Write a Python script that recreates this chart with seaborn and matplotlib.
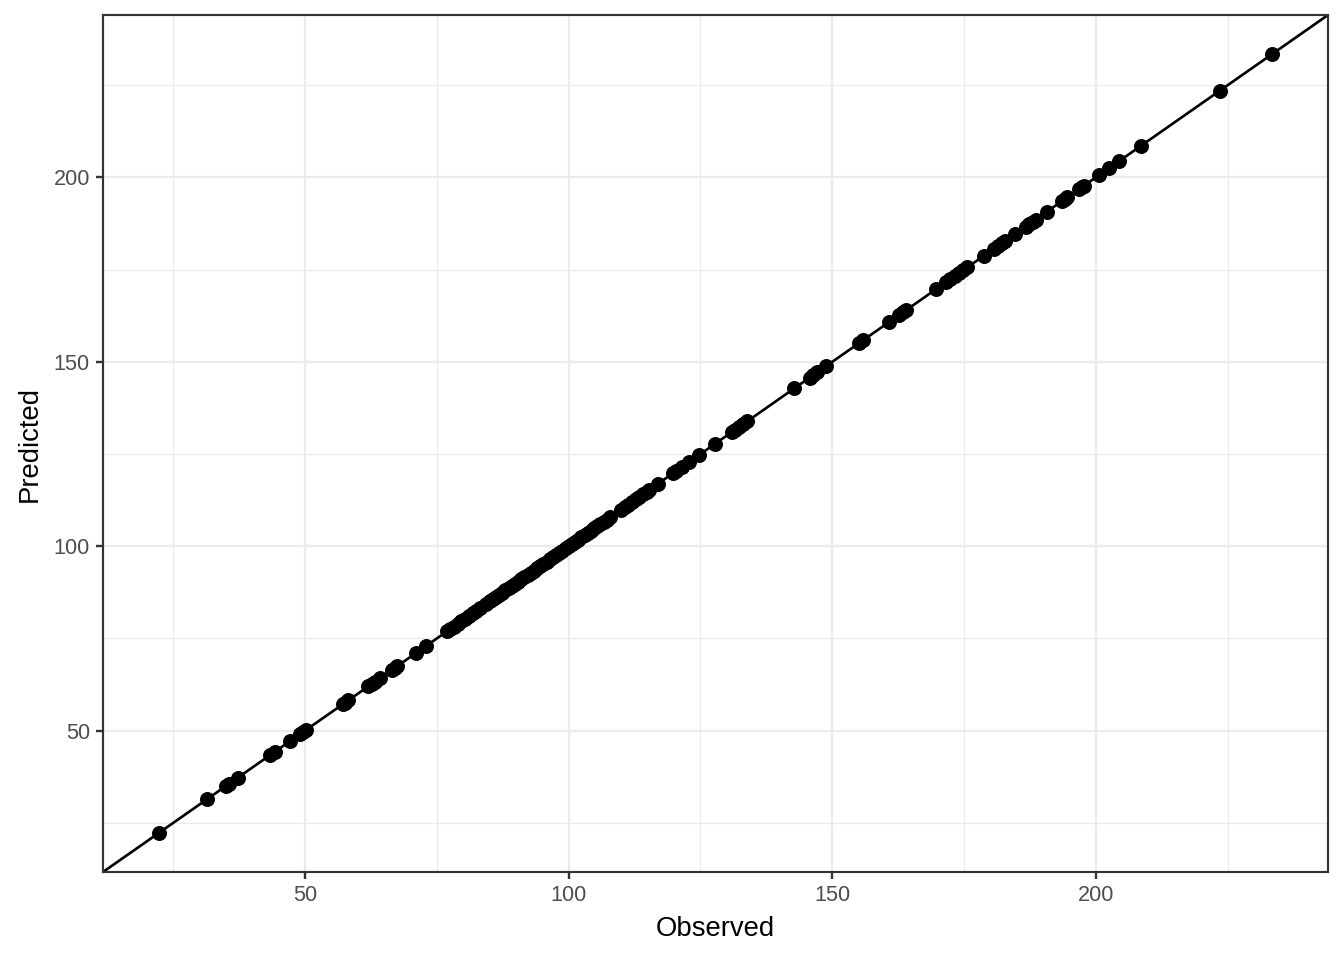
import matplotlib
matplotlib.use("Agg")
import matplotlib.pyplot as plt
import seaborn as sns
import pandas as pd
from matplotlib.ticker import MultipleLocator

observed = [22.2, 31.3, 35.0, 35.5, 37.2, 43.3, 44.2, 47.2, 49.0, 49.6, 50.2,
            57.2, 57.6, 58.2, 62.0, 62.6, 63.2, 64.2, 66.4, 67.0, 67.4, 71.0, 73.0,
            76.9, 77.5, 78.2, 78.9, 79.6, 80.3, 81.0, 81.8, 82.5, 83.1, 84.3, 85.0,
            85.6, 86.2, 86.8, 87.4, 88.0, 88.6, 89.2, 89.8, 90.4, 91.0, 91.6, 92.2,
            92.8, 93.4, 94.0, 94.6, 95.2, 95.8, 96.4, 97.0, 97.6, 98.2, 98.8, 99.4,
            100.0, 100.6, 101.2, 101.8, 102.4, 103.0, 103.6, 104.2, 104.8, 105.4,
            106.0, 106.6, 107.2, 107.8, 109.9, 110.6, 111.3, 112.0, 112.7, 113.4,
            114.1, 114.8, 115.3, 116.9, 119.8, 120.4, 121.4, 122.9, 124.8, 127.8,
            130.9, 131.6, 132.3, 133.1, 133.9, 142.8, 145.7, 146.3, 147.2, 148.8,
            155.1, 155.8, 160.7, 162.7, 163.4, 164.0, 169.7, 171.6, 172.4, 173.2,
            174.0, 174.8, 175.6, 178.7, 180.7, 181.5, 182.3, 182.7, 184.6, 186.7,
            187.4, 188.0, 188.6, 190.7, 193.6, 194.1, 194.6, 196.8, 197.3, 197.8,
            200.6, 202.6, 204.5, 208.5, 223.5, 233.5]
predicted = [22.2, 31.3, 35.0, 35.5, 37.2, 43.3, 44.2, 47.2, 49.0, 49.6, 50.2,
             57.2, 57.6, 58.2, 62.0, 62.6, 63.2, 64.2, 66.4, 67.0, 67.4, 71.0, 73.0,
             76.9, 77.5, 78.2, 78.9, 79.6, 80.3, 81.0, 81.8, 82.5, 83.1, 84.3, 85.0,
             85.6, 86.2, 86.8, 87.4, 88.0, 88.6, 89.2, 89.8, 90.4, 91.0, 91.6, 92.2,
             92.8, 93.4, 94.0, 94.6, 95.2, 95.8, 96.4, 97.0, 97.6, 98.2, 98.8, 99.4,
             100.0, 100.6, 101.2, 101.8, 102.4, 103.0, 103.6, 104.2, 104.8, 105.4,
             106.0, 106.6, 107.2, 107.8, 109.9, 110.6, 111.3, 112.0, 112.7, 113.4,
             114.1, 114.8, 115.3, 116.9, 119.8, 120.4, 121.4, 122.9, 124.8, 127.8,
             130.9, 131.6, 132.3, 133.1, 133.9, 142.8, 145.7, 146.3, 147.2, 148.8,
             155.1, 155.8, 160.7, 162.7, 163.4, 164.0, 169.7, 171.6, 172.4, 173.2,
             174.0, 174.8, 175.6, 178.7, 180.7, 181.5, 182.3, 182.7, 184.6, 186.7,
             187.4, 188.0, 188.6, 190.7, 193.6, 194.1, 194.6, 196.8, 197.3, 197.8,
             200.6, 202.6, 204.5, 208.5, 223.5, 233.5]

df = pd.DataFrame({"Observed": observed, "Predicted": predicted})

sns.set_theme(style="white")
plt.rcParams["font.family"] = ["Liberation Sans", "DejaVu Sans"]

DPI = 192
fig = plt.figure(figsize=(1344 / DPI, 960 / DPI), dpi=DPI)
ax = fig.add_axes([103 / 1344, 1 - 872 / 960, (1328 - 103) / 1344, (872 - 15) / 960])

xr = max(observed) - min(observed)
yr = max(predicted) - min(predicted)
ax.set_xlim(min(observed) - xr * 0.05, max(observed) + xr * 0.05)
ax.set_ylim(min(predicted) - yr * 0.05, max(predicted) + yr * 0.05)

ax.xaxis.set_major_locator(MultipleLocator(50))
ax.yaxis.set_major_locator(MultipleLocator(50))
ax.xaxis.set_minor_locator(MultipleLocator(25))
ax.yaxis.set_minor_locator(MultipleLocator(25))
ax.grid(which="major", color="#EBEBEB", linewidth=0.9, zorder=0)
ax.grid(which="minor", color="#EBEBEB", linewidth=0.5, zorder=0)
ax.set_axisbelow(True)

ax.axline((0, 0), slope=1, color="black", linewidth=1.0, zorder=2)
sns.scatterplot(data=df, x="Observed", y="Predicted", ax=ax, color="black",
                s=27, edgecolor="black", linewidth=0.4, zorder=3)

for sp in ax.spines.values():
    sp.set_color("#333333")
    sp.set_linewidth(0.8)
    sp.set_visible(True)

ax.tick_params(which="major", length=2.75, width=0.9, color="#333333",
               labelsize=8.1, labelcolor="#4D4D4D", bottom=True, left=True, pad=2.2)
ax.tick_params(which="minor", length=0, bottom=False, left=False)
ax.set_xlabel("Observed", fontsize=10.3, color="black", labelpad=3.5)
ax.set_ylabel("Predicted", fontsize=10.3, color="black", labelpad=4)

fig.savefig("out.png", dpi=DPI, facecolor="white")
